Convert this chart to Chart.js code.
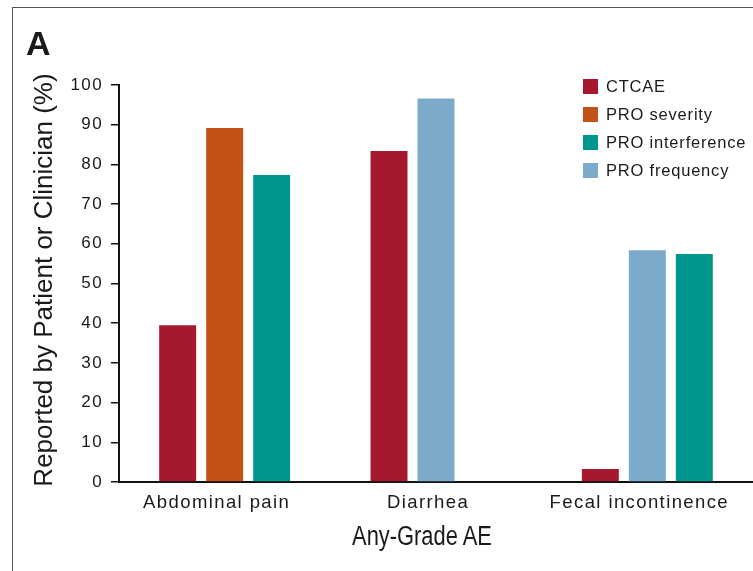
<!DOCTYPE html>
<html lang="en">
<head>
<meta charset="utf-8">
<title>Any-Grade AE</title>
<script src="https://cdn.jsdelivr.net/npm/chart.js@4/dist/chart.umd.min.js"></script>
<style>
  html, body { margin: 0; padding: 0; background: #fff; }
  #panel { position: relative; width: 753px; height: 571px; overflow: hidden;
           font-family: "Liberation Sans", Arial, sans-serif; color: #1a1a1a; }
  #frame { position: absolute; left: 12px; top: 7px; width: 800px; height: 600px;
           border-top: 1.5px solid #555; border-left: 1.5px solid #555; }
  #chart { position: absolute; left: 0; top: 0; }
  #panel-label { position: absolute; left: 26px; top: 26px; font: bold 34px "Liberation Sans", Arial, sans-serif; line-height: 1; }
  #y-title { position: absolute; left: 43px; top: 280px; white-space: nowrap; line-height: 1;
             font-size: 26px; transform: translate(-50%, -50%) rotate(-90deg); }
  #x-title { position: absolute; left: 422px; top: 523px; white-space: nowrap; line-height: 1;
             font-size: 27px; transform: translateX(-50%) scaleX(0.81); }
  #legend { position: absolute; left: 583px; top: 72px; }
  .legend-item { display: flex; align-items: center; height: 28px; font-size: 16.5px; letter-spacing: 0.8px; line-height: 1; }
  .legend-box { width: 15px; height: 15px; margin-right: 8px; }
</style>
</head>
<body>
<div id="panel">
  <div id="frame"></div>
  <canvas id="chart" width="753" height="571"></canvas>
  <div id="panel-label">A</div>
  <div id="y-title">Reported by Patient or Clinician (%)</div>
  <div id="x-title">Any-Grade AE</div>
  <div id="legend"></div>
</div>
<script>
// Datos
const categories = ["Abdominal pain", "Diarrhea", "Fecal incontinence"];
const ctcaeValues = [39.5, 83.4, 3.3];
const proSeverityValues = [89.2, null, null];
const proInterferenceValues = [77.3, null, 57.4];
const proFrequencyValues = [null, 96.6, 58.4];
const yTickValues = [0, 10, 20, 30, 40, 50, 60, 70, 80, 90, 100];

// Series: "stack" decide la posición de la barra dentro de cada grupo
const series = [
    { label: "CTCAE", data: ctcaeValues, color: "#a5182d", stack: "a" },
    { label: "PRO severity", data: proSeverityValues, color: "#c35219", stack: "b" },
    { label: "PRO interference", data: proInterferenceValues, color: "#00978f", stack: "c" },
    { label: "PRO frequency", data: proFrequencyValues, color: "#7caaca", stack: "b" }
];

// Espaciado de letras para los textos del canvas
const letterSpacingPlugin = {
    id: "letterSpacing",
    beforeLayout(chart) { chart.ctx.letterSpacing = "1.4px"; },
    beforeDraw(chart) { chart.ctx.letterSpacing = "1.4px"; }
};

function renderLegend() {
    const legend = document.getElementById("legend");
    series.forEach(s => {
        const item = document.createElement("div");
        item.className = "legend-item";
        item.innerHTML = `<span class="legend-box" style="background:${s.color}"></span><span>${s.label}</span>`;
        legend.appendChild(item);
    });
}

function renderChart() {
    const ctx = document.getElementById("chart").getContext("2d");
    const textColor = "#1a1a1a";
    const axisColor = "#111";

    new Chart(ctx, {
        type: "bar",
        data: {
            labels: categories,
            datasets: series.map(s => ({
                label: s.label,
                data: s.data,
                backgroundColor: s.color,
                stack: s.stack,
                categoryPercentage: 0.667,
                barPercentage: 0.787
            }))
        },
        options: {
            responsive: false,
            animation: false,
            layout: { padding: { top: 85, left: 0, right: 0, bottom: 0 } },
            plugins: { legend: { display: false }, tooltip: { enabled: false } },
            scales: {
                x: {
                    stacked: true,
                    z: 1,
                    grid: { display: false, drawTicks: false, tickLength: 0 },
                    border: { display: true, color: axisColor, width: 2 },
                    ticks: {
                        color: textColor,
                        padding: 10,
                        labelOffset: -8,
                        maxRotation: 0,
                        font: { family: "'Liberation Sans', Arial, sans-serif", size: 18.5 }
                    },
                    afterFit(scale) { scale.height = 89; }
                },
                y: {
                    stacked: true,
                    min: 0,
                    max: 100,
                    grid: { drawOnChartArea: false, drawTicks: true, tickLength: 8, color: axisColor, lineWidth: 1.5 },
                    border: { display: true, color: axisColor, width: 2 },
                    ticks: {
                        color: textColor,
                        padding: 8,
                        font: { family: "'Liberation Sans', Arial, sans-serif", size: 17 }
                    },
                    afterBuildTicks(scale) { scale.ticks = yTickValues.map(v => ({ value: v })); },
                    afterFit(scale) { scale.width = 119; }
                }
            }
        },
        plugins: [letterSpacingPlugin]
    });
}

renderLegend();
renderChart();
</script>
</body>
</html>
